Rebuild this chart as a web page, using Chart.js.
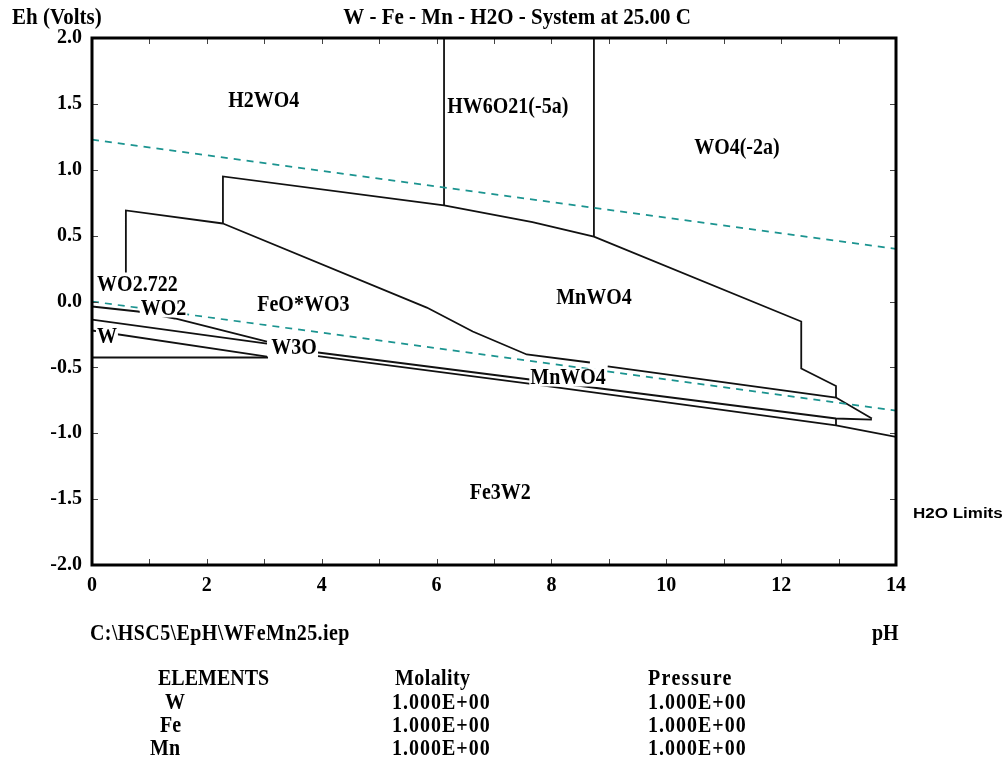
<!DOCTYPE html>
<html>
<head>
<meta charset="utf-8">
<script src="https://cdn.jsdelivr.net/npm/chart.js@4.4.1/dist/chart.umd.min.js"></script>
<style>
html,body{margin:0;padding:0;background:#fff;}
#wrap{position:relative;width:1008px;height:763px;overflow:hidden;}
#c{position:absolute;left:0;top:0;}
.t{position:absolute;font-family:"Liberation Serif","Times New Roman",serif;font-weight:bold;font-size:20px;line-height:20px;white-space:nowrap;color:#000;transform:scaleY(1.15);transform-origin:left center;}
.n{letter-spacing:1px;}
</style>
</head>
<body>
<div id="wrap">
<canvas id="c" width="1008" height="763"></canvas>
<div class="t" style="left:90px;top:622px;letter-spacing:0.4px">C:\HSC5\EpH\WFeMn25.iep</div>
<div class="t" style="left:872px;top:622px">pH</div>
<div class="t" style="left:158px;top:667px">ELEMENTS</div>
<div class="t" style="left:395px;top:667px;letter-spacing:0.4px">Molality</div>
<div class="t" style="left:648px;top:667px;letter-spacing:1.4px">Pressure</div>
<div class="t" style="left:165px;top:691px">W</div>
<div class="t" style="left:160px;top:714px">Fe</div>
<div class="t" style="left:150px;top:737px">Mn</div>
<div class="t n" style="left:392px;top:691px">1.000E+00</div>
<div class="t n" style="left:392px;top:714px">1.000E+00</div>
<div class="t n" style="left:392px;top:737px">1.000E+00</div>
<div class="t n" style="left:648px;top:691px">1.000E+00</div>
<div class="t n" style="left:648px;top:714px">1.000E+00</div>
<div class="t n" style="left:648px;top:737px">1.000E+00</div>
</div>
<script>
// ---- tick labels ----
const xTickLabels = ['0','2','4','6','8','10','12','14'];
const yTickLabels = ['-2.0','-1.5','-1.0','-0.5','0.0','0.5','1.0','1.5','2.0'];

// ---- water stability limits (dashed) ----
const h2oUpperPH = [0, 14];
const h2oUpperEh = [1.228, 0.399];
const h2oLowerPH = [0, 14];
const h2oLowerEh = [0.0, -0.828];

// ---- predominance boundaries ----
const hw6LeftPH  = [6.13, 6.13];
const hw6LeftEh  = [2.0, 0.729];
const hw6RightPH = [8.74, 8.74];
const hw6RightEh = [2.0, 0.493];
const mnTopPH = [2.28, 2.28, 6.13, 7.67, 8.74, 12.35, 12.35, 12.955, 12.955];
const mnTopEh = [0.592, 0.949, 0.729, 0.602, 0.493, -0.152, -0.509, -0.641, -0.729];
const wo2722PH = [0.59, 0.59, 2.28];
const wo2722Eh = [0.22, 0.691, 0.592];
const feoRightPH = [2.28, 5.83, 6.63, 7.57, 8.67];
const feoRightEh = [0.592, -0.046, -0.228, -0.402, -0.463];
const mnLowPH = [8.98, 12.955, 13.58];
const mnLowEh = [-0.493, -0.729, -0.888];
const wo2TopPH = [0, 0.80, 1.445, 3.047];
const wo2TopEh = [-0.038, -0.076, -0.129, -0.304];
const wo2BotPH = [0, 3.047];
const wo2BotEh = [-0.137, -0.319];
const wTopPH = [0, 3.047];
const wTopEh = [-0.22, -0.418];
const wBotPH = [0, 3.065];
const wBotEh = [-0.425, -0.425];
const bandMidPH = [3.935, 12.955, 13.58];
const bandMidEh = [-0.387, -0.888, -0.896];
const fe3w2TopPH = [3.935, 7.574, 12.955, 14.0];
const fe3w2TopEh = [-0.414, -0.622, -0.941, -1.028];
const stubPH = [12.955, 12.955];
const stubEh = [-0.888, -0.941];

// ---- region labels ----
const regionText = ['H2WO4','HW6O21(-5a)','WO4(-2a)','WO2.722','WO2','FeO*WO3','MnWO4','W','W3O','MnWO4','Fe3W2'];
const regionPH   = [2.99, 7.24, 11.23, 0.79, 1.245, 3.68, 8.74, 0.26, 3.52, 8.29, 7.11];
const regionEh   = [1.526, 1.480, 1.169, 0.129, -0.053, -0.023, 0.030, -0.266, -0.349, -0.577, -1.450];

const SERIF = '"Liberation Serif","Times New Roman",serif';
const pts = (xs, ys) => xs.map((x, i) => ({x: x, y: ys[i]}));
const solid = (xs, ys) => ({data: pts(xs, ys), showLine: true, borderColor: '#111', borderWidth: 1.8, pointRadius: 0, fill: false, tension: 0});
const dashed = (xs, ys) => ({data: pts(xs, ys), showLine: true, borderColor: '#1b9490', borderWidth: 1.7, borderDash: [7, 6], pointRadius: 0, fill: false, tension: 0});

const datasets = [
  dashed(h2oUpperPH, h2oUpperEh),
  dashed(h2oLowerPH, h2oLowerEh),
  solid(hw6LeftPH, hw6LeftEh),
  solid(hw6RightPH, hw6RightEh),
  solid(mnTopPH, mnTopEh),
  solid(wo2722PH, wo2722Eh),
  solid(feoRightPH, feoRightEh),
  solid(mnLowPH, mnLowEh),
  solid(wo2TopPH, wo2TopEh),
  solid(wo2BotPH, wo2BotEh),
  solid(wTopPH, wTopEh),
  solid(wBotPH, wBotEh),
  solid(bandMidPH, bandMidEh),
  solid(fe3w2TopPH, fe3w2TopEh),
  solid(stubPH, stubEh)
];

function tallText(ctx, t, x, y, sy) {
  ctx.save();
  ctx.translate(x, y);
  ctx.scale(1, sy);
  ctx.fillText(t, 0, 0);
  ctx.restore();
}

const decor = {
  id: 'decor',
  afterDatasetsDraw(chart) {
    const ctx = chart.ctx, xs = chart.scales.x, ys = chart.scales.y;
    ctx.save();
    ctx.font = 'bold 20px ' + SERIF;
    ctx.textAlign = 'center';
    ctx.textBaseline = 'middle';
    regionText.forEach((t, i) => {
      const px = xs.getPixelForValue(regionPH[i]);
      const py = ys.getPixelForValue(regionEh[i]);
      const w = ctx.measureText(t).width;
      ctx.fillStyle = '#fff';
      ctx.fillRect(px - w / 2 - 1, py - 9, w + 2, 18);
      ctx.fillStyle = '#000';
      tallText(ctx, t, px, py + 1, 1.15);
    });
    ctx.restore();
  },
  afterDraw(chart) {
    const ctx = chart.ctx, a = chart.chartArea, xs = chart.scales.x, ys = chart.scales.y;
    ctx.save();
    // inward tick marks
    ctx.strokeStyle = '#444';
    ctx.lineWidth = 1;
    for (let v = 1; v < 14; v++) {
      const px = Math.round(xs.getPixelForValue(v)) + 0.5;
      ctx.beginPath();
      ctx.moveTo(px, a.top); ctx.lineTo(px, a.top + 6);
      ctx.moveTo(px, a.bottom); ctx.lineTo(px, a.bottom - 6);
      ctx.stroke();
    }
    for (let v = -1.5; v < 2; v += 0.5) {
      const py = Math.round(ys.getPixelForValue(v)) + 0.5;
      ctx.beginPath();
      ctx.moveTo(a.left, py); ctx.lineTo(a.left + 6, py);
      ctx.moveTo(a.right, py); ctx.lineTo(a.right - 6, py);
      ctx.stroke();
    }
    // frame
    ctx.strokeStyle = '#000';
    ctx.lineWidth = 3;
    ctx.strokeRect(a.left, a.top, a.right - a.left, a.bottom - a.top);
    // texts
    ctx.fillStyle = '#000';
    ctx.font = 'bold 21px ' + SERIF;
    ctx.textBaseline = 'middle';
    ctx.textAlign = 'center';
    tallText(ctx, 'W - Fe - Mn - H2O - System at 25.00 C', 517, 18, 1.1);
    ctx.textAlign = 'left';
    tallText(ctx, 'Eh (Volts)', 12, 18, 1.1);
    ctx.font = 'bold 17px Arial, "Liberation Sans", sans-serif';
    tallText(ctx, 'H2O Limits', 913, 514, 0.85);
    ctx.restore();
  }
};

new Chart(document.getElementById('c'), {
  type: 'scatter',
  data: {datasets: datasets},
  options: {
    responsive: false,
    animation: false,
    devicePixelRatio: 1,
    layout: {padding: {left: 0, right: 112, top: 38, bottom: 0}},
    plugins: {legend: {display: false}, tooltip: {enabled: false}, title: {display: false}},
    scales: {
      x: {
        type: 'linear', min: 0, max: 14,
        afterFit: s => { s.height = 198; },
        grid: {display: false, drawTicks: false},
        border: {display: false},
        ticks: {stepSize: 2, padding: 9, color: '#000', maxRotation: 0,
          font: {family: SERIF, size: 20, weight: 'bold'},
          callback: (v, i) => xTickLabels[i]}
      },
      y: {
        type: 'linear', min: -2, max: 2,
        afterFit: s => { s.width = 92; },
        grid: {display: false, drawTicks: false},
        border: {display: false},
        ticks: {stepSize: 0.5, padding: 10, color: '#000',
          font: {family: SERIF, size: 20, weight: 'bold'},
          callback: (v, i) => yTickLabels[i]}
      }
    }
  },
  plugins: [decor]
});
</script>
</body>
</html>
